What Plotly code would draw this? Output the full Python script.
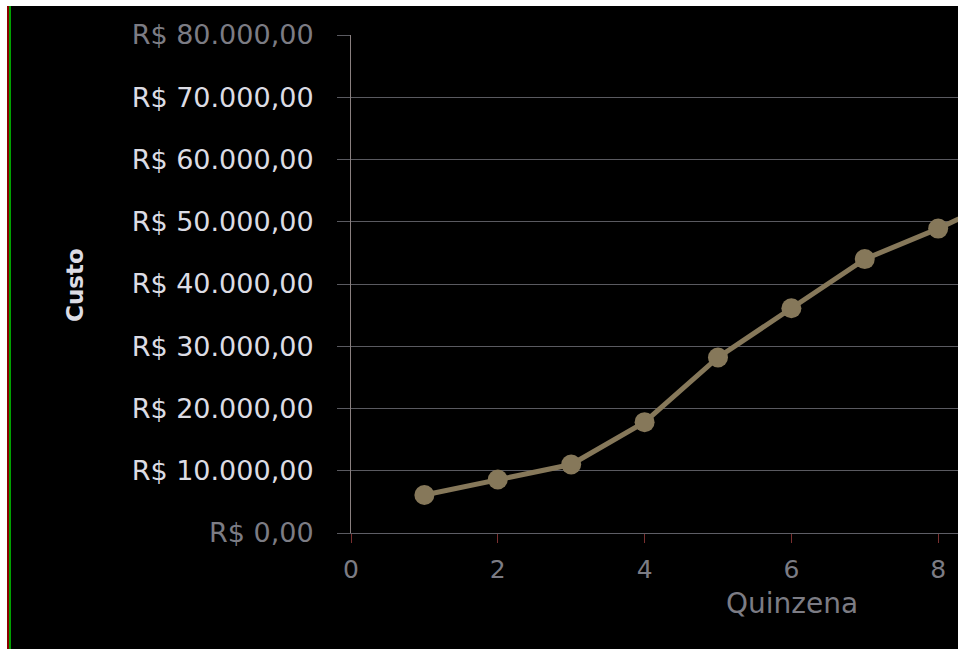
import plotly.graph_objects as go

# Custo acumulado por quinzena
quinzenas = [1, 2, 3, 4, 5, 6, 7, 8, 9]
custos = [6100, 8600, 11000, 17800, 28200, 36100, 44000, 48900, 54500]

y_ticks = [0, 10000, 20000, 30000, 40000, 50000, 60000, 70000, 80000]
y_labels = ["R$ 0,00", "R$ 10.000,00", "R$ 20.000,00", "R$ 30.000,00",
            "R$ 40.000,00", "R$ 50.000,00", "R$ 60.000,00", "R$ 70.000,00",
            "R$ 80.000,00"]
x_ticks = [0, 2, 4, 6, 8]

W, H = 958, 649
M_L, M_T, M_B, M_R = 351, 35, 116, 0
PW = W - M_L - M_R
PH = H - M_T - M_B

def px_x(p):
    return (p - M_L) / PW

def px_y(p):
    return (H - M_B - p) / PH

dim = "#7c7c84"
light = "#dcdce4"
tick_text = []
for v, lab in zip(y_ticks, y_labels):
    if v in (0, 80000):
        tick_text.append(f"<span style='color:{dim}'>{lab}</span>")
    else:
        tick_text.append(lab)

fig = go.Figure()
fig.add_trace(go.Scatter(
    x=quinzenas, y=custos, mode="lines+markers",
    line=dict(color="#86785a", width=5),
    marker=dict(symbol="circle", size=20, color="#86785a"),
    cliponaxis=True, showlegend=False,
))

fig.update_layout(
    width=W, height=H,
    margin=dict(l=M_L, r=M_R, t=M_T, b=M_B, autoexpand=False),
    paper_bgcolor="black", plot_bgcolor="black",
    font=dict(family="DejaVu Sans", color=light),
    xaxis=dict(
        range=[0, 8.27], tickvals=x_ticks, showgrid=False, zeroline=False,
        showline=True, linecolor="#5e5e66", linewidth=1,
        ticks="outside", ticklen=9, tickcolor="#7a3030",
        tickfont=dict(size=25, color=dim), ticklabelstandoff=5,
    ),
    yaxis=dict(
        range=[0, 80000], tickvals=y_ticks, ticktext=tick_text,
        showgrid=True, gridcolor="#5a5a60", gridwidth=1, zeroline=False,
        showline=True, linecolor="#8a8080", linewidth=1,
        ticks="outside", ticklen=13, tickcolor="#5a5a60",
        tickfont=dict(size=27, color=light), ticklabelstandoff=18,
    ),
    annotations=[
        dict(text="Quinzena", xref="paper", yref="paper",
             x=px_x(792), y=px_y(603), showarrow=False,
             font=dict(size=28, color=dim), xanchor="center", yanchor="middle"),
        dict(text="<b>Custo</b>", xref="paper", yref="paper",
             x=px_x(75), y=px_y(285), showarrow=False, textangle=-90,
             font=dict(size=23, color=light), xanchor="center", yanchor="middle"),
    ],
    shapes=[
        dict(type="rect", xref="paper", yref="paper", layer="above",
             x0=px_x(0), x1=px_x(W), y0=px_y(0), y1=px_y(6),
             fillcolor="white", line=dict(width=0)),
        dict(type="rect", xref="paper", yref="paper", layer="above",
             x0=px_x(0), x1=px_x(7), y0=px_y(0), y1=px_y(H),
             fillcolor="white", line=dict(width=0)),
        dict(type="rect", xref="paper", yref="paper", layer="above",
             x0=px_x(7), x1=px_x(9), y0=px_y(6), y1=px_y(H),
             fillcolor="#8a0000", line=dict(width=0)),
        dict(type="rect", xref="paper", yref="paper", layer="above",
             x0=px_x(9), x1=px_x(11), y0=px_y(6), y1=px_y(H),
             fillcolor="#00a000", line=dict(width=0)),
    ],
)

fig.write_html("out.html")
